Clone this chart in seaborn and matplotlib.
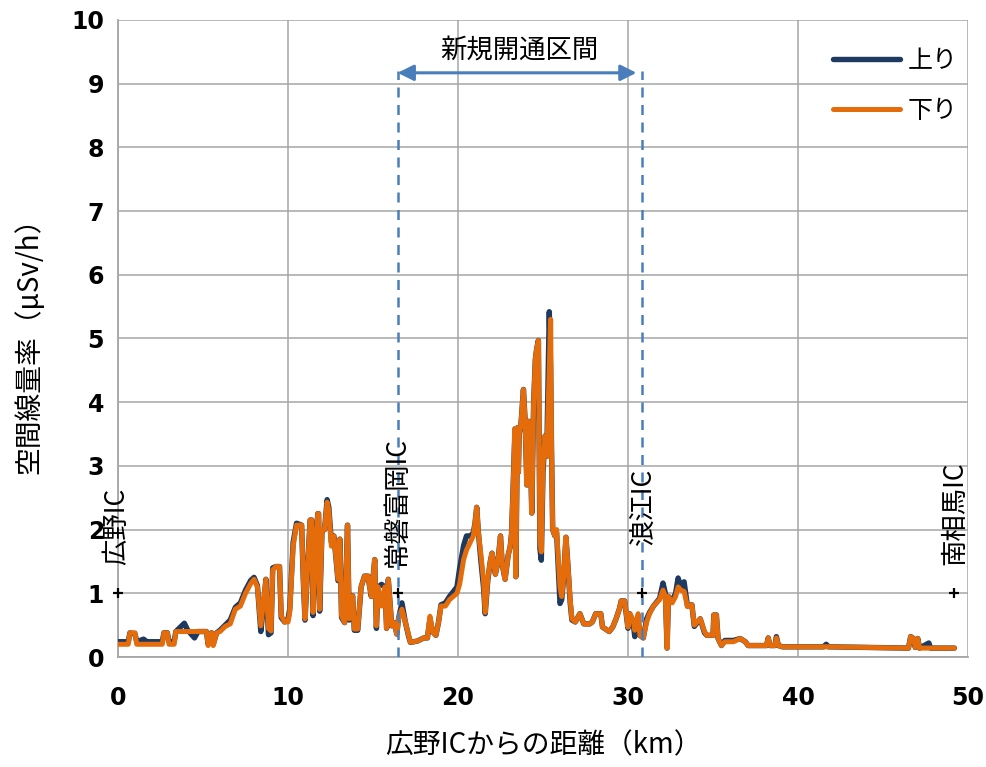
import matplotlib
matplotlib.use("Agg")
import matplotlib.pyplot as plt
import seaborn as sns
import pandas as pd

# 広野ICからの距離 (km)
dist_km = [
    0.0, 0.6, 0.7, 1.0, 1.1, 1.5, 1.7, 2.6, 2.7, 2.9, 3.0, 3.3, 3.4, 3.9, 4.1, 4.5, 4.7, 5.2, 5.3, 5.5,
    5.6, 5.8, 6.0, 6.3, 6.6, 6.9, 7.2, 7.5, 7.8, 8.0, 8.2, 8.4, 8.55, 8.7, 8.85, 9.0, 9.1, 9.3, 9.5, 9.6,
    9.8, 10.0, 10.1, 10.3, 10.5, 10.8, 10.9, 11.0, 11.15, 11.3, 11.4, 11.47, 11.6, 11.75, 11.8, 11.86, 12.0, 12.15, 12.3, 12.4,
    12.55, 12.7, 12.94, 13.05, 13.15, 13.33, 13.5, 13.6, 13.8, 13.9, 14.1, 14.3, 14.5, 14.7, 14.9, 15.1, 15.2, 15.3, 15.5, 15.7,
    15.8, 15.9, 16.1, 16.25, 16.4, 16.5, 16.7, 16.9, 17.1, 17.2, 17.6, 18.0, 18.2, 18.35, 18.5, 18.7, 18.85, 19.0, 19.26, 19.5,
    19.94, 20.1, 20.33, 20.5, 20.72, 20.9, 21.0, 21.1, 21.2, 21.35, 21.5, 21.6, 21.75, 21.9, 22.0, 22.2, 22.35, 22.5, 22.6, 22.77,
    22.95, 23.07, 23.15, 23.25, 23.35, 23.4, 23.5, 23.55, 23.6, 23.7, 23.85, 23.95, 24.05, 24.1, 24.15, 24.25, 24.34, 24.45, 24.55, 24.63,
    24.73, 24.78, 24.82, 24.9, 25.0, 25.12, 25.22, 25.37, 25.45, 25.5, 25.57, 25.7, 25.8, 25.9, 26.0, 26.1, 26.2, 26.35, 26.45, 26.6,
    26.7, 26.9, 27.17, 27.4, 27.75, 27.9, 28.1, 28.4, 28.5, 28.9, 29.1, 29.3, 29.5, 29.6, 29.8, 30.0, 30.1, 30.3, 30.4, 30.6,
    30.7, 30.9, 31.1, 31.27, 31.5, 31.86, 32.06, 32.2, 32.3, 32.38, 32.6, 32.8, 32.95, 33.1, 33.3, 33.5, 33.76, 33.9, 34.25, 34.5,
    34.64, 35.0, 35.05, 35.2, 35.3, 35.5, 35.7, 36.2, 36.6, 36.9, 37.07, 38.15, 38.25, 38.35, 38.65, 38.73, 38.85, 39.1, 41.5, 41.66,
    41.8, 46.5, 46.63, 46.8, 46.9, 47.05, 47.15, 47.7, 47.8, 49.2,
]

# 下り (μSv/h)
down_vals = [
    0.20, 0.20, 0.38, 0.38, 0.20, 0.20, 0.20, 0.20, 0.38, 0.38, 0.20, 0.20, 0.40, 0.40, 0.40, 0.40, 0.40, 0.40, 0.18, 0.38,
    0.18, 0.38, 0.40, 0.48, 0.52, 0.75, 0.80, 1.00, 1.15, 1.22, 1.10, 0.49, 0.85, 1.22, 0.45, 0.41, 1.37, 1.42, 1.42, 0.65,
    0.55, 0.55, 0.70, 1.74, 2.07, 2.07, 1.22, 0.60, 1.40, 2.15, 2.15, 0.70, 1.50, 2.25, 2.25, 0.75, 2.00, 2.00, 2.43, 2.30,
    1.74, 1.90, 1.22, 1.85, 0.65, 0.54, 2.07, 0.60, 0.96, 0.44, 0.44, 1.10, 1.27, 1.27, 0.95, 1.53, 0.49, 1.10, 0.80, 1.10,
    0.45, 1.22, 0.49, 0.54, 0.36, 0.60, 0.75, 0.55, 0.34, 0.23, 0.25, 0.30, 0.30, 0.64, 0.40, 0.34, 0.54, 0.80, 0.80, 0.90,
    1.00, 1.15, 1.53, 1.68, 1.80, 1.90, 2.10, 2.35, 1.95, 1.60, 1.22, 0.70, 1.22, 1.50, 1.63, 1.30, 1.50, 1.90, 1.45, 1.22,
    1.60, 1.73, 1.94, 2.72, 3.58, 1.26, 3.60, 2.90, 3.50, 3.64, 4.20, 3.70, 2.70, 3.40, 3.70, 3.30, 2.26, 4.00, 4.67, 4.84,
    4.97, 3.25, 1.84, 1.65, 3.00, 3.47, 3.15, 4.50, 5.30, 3.30, 2.00, 1.90, 2.00, 1.55, 1.10, 0.95, 1.20, 1.88, 1.50, 0.90,
    0.60, 0.55, 0.68, 0.52, 0.52, 0.55, 0.68, 0.68, 0.47, 0.40, 0.47, 0.60, 0.76, 0.88, 0.88, 0.47, 0.68, 0.58, 0.42, 0.68,
    0.34, 0.30, 0.55, 0.68, 0.80, 0.90, 1.05, 0.95, 0.14, 0.95, 0.85, 0.95, 1.10, 1.05, 1.03, 0.79, 0.82, 0.50, 0.60, 0.40,
    0.34, 0.34, 0.66, 0.66, 0.29, 0.18, 0.24, 0.24, 0.29, 0.24, 0.18, 0.18, 0.30, 0.18, 0.18, 0.30, 0.18, 0.16, 0.16, 0.16,
    0.16, 0.14, 0.32, 0.29, 0.15, 0.29, 0.14, 0.14, 0.14, 0.14,
]

# 上り (μSv/h)
up_vals = [
    0.24, 0.24, 0.38, 0.36, 0.24, 0.28, 0.24, 0.24, 0.38, 0.38, 0.24, 0.24, 0.40, 0.53, 0.42, 0.30, 0.40, 0.40, 0.20, 0.38,
    0.20, 0.38, 0.42, 0.50, 0.58, 0.78, 0.85, 1.05, 1.20, 1.25, 1.12, 0.40, 0.80, 1.22, 0.35, 0.38, 1.40, 1.42, 1.42, 0.62,
    0.55, 0.60, 0.75, 1.80, 2.10, 2.07, 1.20, 0.58, 1.40, 2.15, 2.15, 0.65, 1.50, 2.25, 2.25, 0.72, 2.00, 2.00, 2.47, 2.35,
    1.80, 1.90, 1.20, 1.85, 0.62, 0.54, 2.07, 0.58, 0.96, 0.42, 0.42, 1.10, 1.27, 1.27, 0.95, 1.53, 0.45, 1.10, 1.14, 1.10,
    0.45, 1.22, 0.49, 0.54, 0.36, 0.60, 0.85, 0.55, 0.32, 0.23, 0.25, 0.30, 0.30, 0.60, 0.40, 0.34, 0.54, 0.82, 0.85, 0.95,
    1.10, 1.40, 1.75, 1.90, 1.90, 1.95, 2.10, 2.35, 1.95, 1.50, 1.10, 0.68, 1.20, 1.50, 1.63, 1.30, 1.50, 1.90, 1.45, 1.22,
    1.60, 1.73, 1.94, 2.72, 3.58, 1.26, 3.60, 2.90, 3.50, 3.64, 4.20, 3.70, 2.70, 3.40, 3.70, 3.30, 2.26, 4.00, 4.67, 4.84,
    4.97, 3.25, 1.70, 1.52, 2.90, 3.47, 3.15, 5.42, 4.50, 3.30, 2.00, 1.90, 1.95, 1.40, 0.84, 0.90, 1.20, 1.88, 1.50, 0.85,
    0.58, 0.55, 0.68, 0.52, 0.52, 0.55, 0.68, 0.68, 0.47, 0.40, 0.47, 0.60, 0.76, 0.88, 0.88, 0.45, 0.68, 0.55, 0.32, 0.60,
    0.34, 0.30, 0.60, 0.70, 0.80, 0.92, 1.16, 1.00, 0.14, 0.95, 0.88, 1.00, 1.24, 1.10, 1.18, 0.80, 0.82, 0.48, 0.60, 0.38,
    0.34, 0.34, 0.66, 0.66, 0.29, 0.18, 0.26, 0.26, 0.29, 0.24, 0.18, 0.18, 0.30, 0.18, 0.18, 0.32, 0.18, 0.16, 0.16, 0.20,
    0.16, 0.14, 0.32, 0.29, 0.15, 0.29, 0.14, 0.22, 0.14, 0.14,
]

series_names = ["上り", "下り"]
ic_names = ["広野IC", "常磐富岡IC", "浪江IC", "南相馬IC"]
ic_km = [0.0, 16.45, 30.8, 49.2]
section_km = [16.45, 30.8]
section_label = "新規開通区間"

x_label = "広野ICからの距離（km）"
y_label = "空間線量率（μSv/h）"
x_ticks = [0, 10, 20, 30, 40, 50]
y_ticks = list(range(0, 11))

NAVY = "#1F3A60"
ORANGE = "#E46C0A"
BLUE = "#4A7EBB"
GRID = "#A6A6A6"
JP = ["Noto Sans CJK JP", "DejaVu Sans"]

sns.set_style("whitegrid")
plt.rcParams["font.family"] = ["DejaVu Sans", "Noto Sans CJK JP"]
plt.rcParams["text.color"] = "black"
plt.rcParams["axes.labelcolor"] = "black"

df_up = pd.DataFrame({"km": dist_km, "val": up_vals})
df_down = pd.DataFrame({"km": dist_km, "val": down_vals})

fig = plt.figure(figsize=(9.87, 7.67), dpi=100)
ax = fig.add_axes([0.1196, 0.1434, 0.8611, 0.8306])

sns.lineplot(data=df_up, x="km", y="val", ax=ax, color=NAVY, lw=3.9,
             sort=False, estimator=None, label=series_names[0], zorder=3)
sns.lineplot(data=df_down, x="km", y="val", ax=ax, color=ORANGE, lw=3.6,
             sort=False, estimator=None, label=series_names[1], zorder=4)

ax.set_xlim(0, 50)
ax.set_ylim(0, 10)
ax.set_xticks(x_ticks)
ax.set_yticks(y_ticks)
ax.grid(True, color=GRID, lw=1.1)
ax.set_axisbelow(True)
for side in ["top", "right"]:
    ax.spines[side].set_visible(False)
for side in ["left", "bottom"]:
    ax.spines[side].set_color(GRID)
    ax.spines[side].set_linewidth(1.3)

ax.tick_params(axis="both", direction="out", length=6, width=1.2, color=GRID,
               labelsize=17, labelcolor="black")
ax.tick_params(axis="y", pad=4)
ax.tick_params(axis="x", pad=15)
for lab in ax.get_xticklabels() + ax.get_yticklabels():
    lab.set_fontweight("bold")

ax.set_xlabel(x_label, family=JP, fontsize=20, va="center", color="black")
ax.set_ylabel(y_label, family=JP, fontsize=20, va="center", color="black")
ax.xaxis.set_label_coords(0.5, -0.138)
ax.yaxis.set_label_coords(-0.104, 0.5)

# 新規開通区間
for xk in section_km:
    ax.plot([xk, xk], [0, 9.2], color=BLUE, lw=1.8, dashes=(4, 3), zorder=5)
ax.annotate("", xy=(section_km[0], 9.17), xytext=(section_km[1] - 0.3, 9.17),
            arrowprops=dict(arrowstyle="<|-|>", color=BLUE, lw=2.2, mutation_scale=24,
                            shrinkA=0, shrinkB=0), zorder=6)
ax.text(sum(section_km) / 2, 9.52, section_label, family=JP, fontsize=19,
        ha="center", va="center", color="black")

# IC
ax.plot(ic_km, [1] * len(ic_km), ls="none", marker="+", color="black",
        ms=7, mew=1.6, zorder=7, clip_on=False)
ic_text_x = [-0.05, 16.45, 30.9, 49.2]
ic_text_y = [1.45, 1.42, 1.76, 1.45]
for name, tx, ty in zip(ic_names, ic_text_x, ic_text_y):
    ax.text(tx, ty, name, family=JP, fontsize=19, rotation=90,
            ha="center", va="bottom", zorder=8, color="black")

leg = ax.legend(loc="upper right", bbox_to_anchor=(1.0, 0.972), frameon=False,
                prop={"family": JP, "size": 18}, handlelength=2.7,
                handletextpad=0.3, labelspacing=0.95, borderaxespad=0.0)
for t in leg.get_texts():
    t.set_color("black")

fig.savefig("out.png", dpi=100)
